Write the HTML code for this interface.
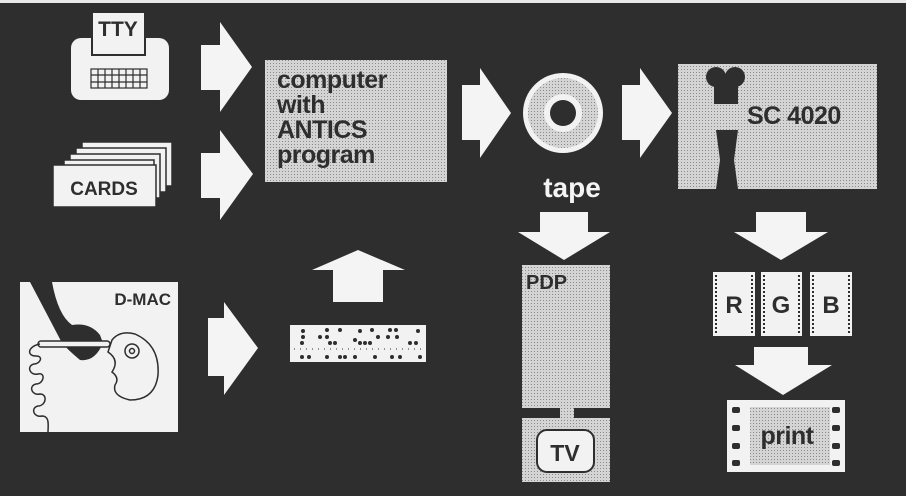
<!DOCTYPE html>
<html><head><meta charset="utf-8"><style>
html,body{margin:0;padding:0;background:#2e2e2e;}
svg{display:block}
text{font-family:"Liberation Sans",sans-serif;font-weight:bold;}
</style></head><body>
<svg width="906" height="496" viewBox="0 0 906 496" xmlns="http://www.w3.org/2000/svg">
<defs>
<pattern id="dots" width="3" height="3" patternUnits="userSpaceOnUse">
<rect width="3" height="3" fill="#d4d4d4"/><rect width="1" height="1" fill="#8a8a8a"/>
</pattern>
</defs>
<rect width="906" height="496" fill="#2e2e2e"/>
<rect width="906" height="3" fill="#e8e8e8"/>

<rect x="71" y="38" width="98" height="62" rx="10" fill="#f2f2f2"/>
<rect x="92" y="12" width="53" height="43" fill="#f2f2f2" stroke="#2e2e2e" stroke-width="2"/>
<text x="118" y="36" font-size="21" text-anchor="middle" fill="#2e2e2e">TTY</text>
<g stroke="#2e2e2e" stroke-width="1.2" fill="none">
<rect x="91" y="69" width="56" height="19"/>
<line x1="91" y1="75" x2="147" y2="75"/><line x1="91" y1="82" x2="147" y2="82"/>
<line x1="98" y1="69" x2="98" y2="88"/><line x1="105" y1="69" x2="105" y2="88"/><line x1="112" y1="69" x2="112" y2="88"/><line x1="119" y1="69" x2="119" y2="88"/><line x1="126" y1="69" x2="126" y2="88"/><line x1="133" y1="69" x2="133" y2="88"/><line x1="140" y1="69" x2="140" y2="88"/>
</g>

<g fill="#f2f2f2" stroke="#2e2e2e" stroke-width="1.5">
<rect x="82" y="142" width="90" height="44"/>
<rect x="76" y="148" width="90" height="44"/>
<rect x="70" y="154" width="90" height="44"/>
<rect x="64" y="160" width="90" height="44"/>
<rect x="53" y="165" width="103" height="42"/>
</g>
<text x="104" y="195" font-size="19" text-anchor="middle" fill="#2e2e2e">CARDS</text>

<g fill="#f4f4f4">
<polygon points="201,45 220,45 220,22 252,67 220,112 220,90 201,90"/>
<polygon points="201,153 220,153 220,130 253,174 220,220 220,198 201,198"/>
<polygon points="462,85 480,85 480,68 511,113 480,158 480,140 462,140"/>
<polygon points="622,85 640,85 640,68 672,113 640,158 640,140 622,140"/>
<polygon points="208,318 224,318 224,302 258,348 224,395 224,376 208,376"/>
<polygon points="312,270 358,250 405,270 383,270 383,302 333,302 333,270"/>
<polygon points="540,212 588,212 588,232 610,232 564,260 518,232 540,232"/>
<polygon points="756,212 806,212 806,232 828,232 781,260 734,232 756,232"/>
<polygon points="754,347 808,347 808,365 832,365 783,395 735,365 754,365"/>
</g>

<rect x="265" y="60" width="182" height="122" fill="url(#dots)"/>
<g font-size="25" fill="#2e2e2e" letter-spacing="-0.5">
<text x="277" y="88">computer</text>
<text x="277" y="113">with</text>
<text x="277" y="138">ANTICS</text>
<text x="277" y="163">program</text>
</g>

<circle cx="563" cy="113" r="40" fill="#f2f2f2"/>
<circle cx="563" cy="113" r="35" fill="url(#dots)"/>
<circle cx="563" cy="113" r="19" fill="#f2f2f2"/>
<circle cx="563" cy="113" r="13" fill="#2e2e2e"/>
<text x="572" y="197" font-size="28" text-anchor="middle" fill="#f4f4f4">tape</text>

<rect x="678" y="64" width="199" height="125" fill="url(#dots)"/>
<g fill="#2e2e2e">
<circle cx="716" cy="77" r="10"/><circle cx="735" cy="77" r="10"/>
<rect x="714" y="80" width="24" height="24"/>
<polygon points="716,130 738,130 734,160 738,189 716,189 720,160"/>
</g>
<text x="747" y="124" font-size="25" fill="#2e2e2e" letter-spacing="-0.5">SC 4020</text>

<rect x="522" y="265" width="88" height="143" fill="url(#dots)"/>
<text x="526" y="289" font-size="20" fill="#2e2e2e">PDP</text>
<rect x="560" y="406" width="14" height="14" fill="url(#dots)"/>
<rect x="522" y="418" width="88" height="64" fill="url(#dots)"/>
<rect x="537" y="430" width="57" height="42" rx="10" fill="#f2f2f2" stroke="#2e2e2e" stroke-width="2"/>
<text x="565" y="461" font-size="23" text-anchor="middle" fill="#2e2e2e">TV</text>

<g fill="#f2f2f2">
<rect x="713" y="272" width="42" height="64"/>
<rect x="761" y="272" width="41" height="64"/>
<rect x="810" y="272" width="42" height="64"/>
</g>
<g stroke="#2e2e2e" stroke-width="2" stroke-dasharray="2,2">
<line x1="716" y1="275" x2="716" y2="334"/><line x1="752" y1="275" x2="752" y2="334"/>
<line x1="764" y1="275" x2="764" y2="334"/><line x1="799" y1="275" x2="799" y2="334"/>
<line x1="813" y1="275" x2="813" y2="334"/><line x1="849" y1="275" x2="849" y2="334"/>
</g>
<g font-size="24" fill="#2e2e2e" text-anchor="middle">
<text x="734" y="313">R</text><text x="781" y="313">G</text><text x="831" y="313">B</text>
</g>

<rect x="727" y="400" width="118" height="72" fill="#f2f2f2"/>
<rect x="750" y="407" width="80" height="58" fill="url(#dots)"/>
<g fill="#2e2e2e">
<rect x="732" y="407" width="8" height="6" rx="2"/><rect x="732" y="425" width="8" height="6" rx="2"/><rect x="732" y="443" width="8" height="6" rx="2"/><rect x="732" y="460" width="8" height="6" rx="2"/>
<rect x="832" y="407" width="8" height="6" rx="2"/><rect x="832" y="425" width="8" height="6" rx="2"/><rect x="832" y="443" width="8" height="6" rx="2"/><rect x="832" y="460" width="8" height="6" rx="2"/>
</g>
<text x="787" y="444" font-size="25" text-anchor="middle" fill="#2e2e2e" letter-spacing="-0.5">print</text>

<rect x="20" y="282" width="158" height="150" fill="#f2f2f2"/>
<text x="171" y="305" font-size="17" text-anchor="end" fill="#2e2e2e">D-MAC</text>
<path d="M30,282 L52,282 Q58,315 72,325 Q90,322 100,335 L103,343 Q95,362 80,360 Q68,350 62,343 Q50,320 30,282Z" fill="#2e2e2e"/>
<rect x="38" y="341" width="72" height="6" rx="3" fill="#f2f2f2" stroke="#2e2e2e" stroke-width="1.5"/>
<g fill="none" stroke="#2e2e2e" stroke-width="1.5">
<path d="M112,340 Q120,330 135,334 Q160,345 158,375 Q155,400 130,400 Q112,396 115,385 Q120,378 112,372 Q120,360 108,352 Z"/>
<circle cx="132" cy="351" r="7"/><circle cx="132" cy="351" r="2.5"/>
<path d="M40,344 C28,346 26,356 36,356 C44,356 40,364 34,364 C26,366 30,376 38,374 C46,372 44,384 36,384 C28,386 32,396 40,394 C48,394 46,406 38,406 C30,408 34,418 42,416 C50,416 48,426 48,432"/>
</g>

<rect x="290" y="325" width="136" height="37" fill="#f2f2f2"/>
<g fill="#2e2e2e">
<circle cx="303" cy="331" r="2"/><circle cx="303" cy="337" r="2"/><circle cx="302" cy="343" r="2"/><circle cx="309" cy="357" r="2"/><circle cx="302" cy="357" r="2"/>
<circle cx="327" cy="330" r="2"/><circle cx="320" cy="337" r="2"/><circle cx="327" cy="337" r="2"/><circle cx="330" cy="343" r="2"/><circle cx="327" cy="357" r="2"/>
<circle cx="340" cy="330" r="2"/><circle cx="335" cy="343" r="2"/><circle cx="340" cy="357" r="2"/><circle cx="345" cy="357" r="2"/>
<circle cx="360" cy="331" r="2"/><circle cx="355" cy="340" r="2"/><circle cx="360" cy="343" r="2"/><circle cx="365" cy="343" r="2"/><circle cx="355" cy="357" r="2"/>
<circle cx="372" cy="330" r="2"/><circle cx="378" cy="337" r="2"/><circle cx="370" cy="343" r="2"/><circle cx="375" cy="357" r="2"/>
<circle cx="390" cy="330" r="2"/><circle cx="396" cy="330" r="2"/><circle cx="388" cy="337" r="2"/><circle cx="397" cy="337" r="2"/><circle cx="392" cy="357" r="2"/>
<circle cx="418" cy="331" r="2"/><circle cx="410" cy="343" r="2"/><circle cx="416" cy="343" r="2"/><circle cx="420" cy="357" r="2"/><circle cx="400" cy="357" r="2"/>
</g>
<line x1="294" y1="349" x2="422" y2="349" stroke="#2e2e2e" stroke-width="1" stroke-dasharray="1,5"/>
</svg>
</body></html>
